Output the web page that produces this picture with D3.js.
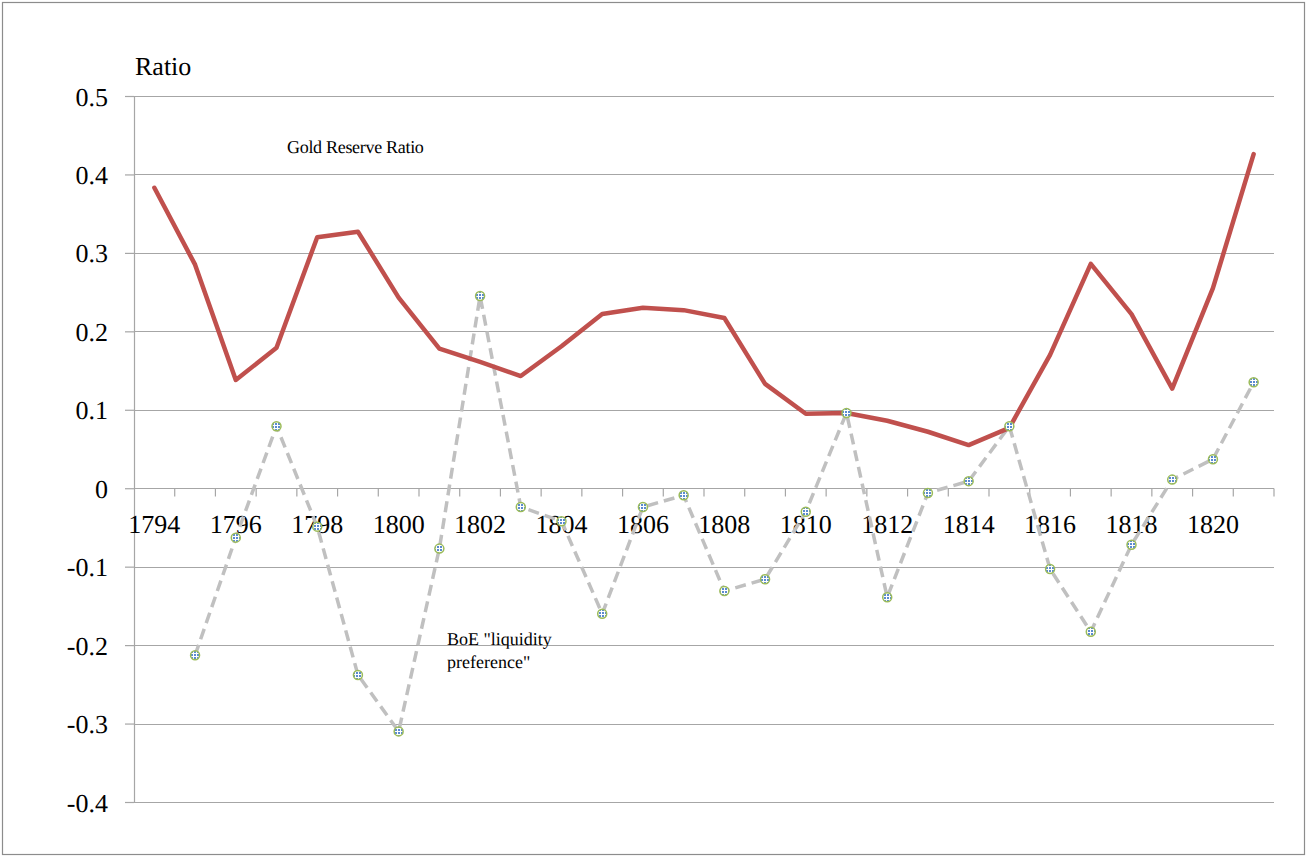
<!DOCTYPE html>
<html>
<head>
<meta charset="utf-8">
<script src="https://cdn.jsdelivr.net/npm/d3@7"></script>
</head>
<body style="margin:0;background:#fff">
<div id="chart"></div>
<script>
const years = d3.range(1794, 1822);
const goldReserveRatio = [
  0.383, 0.285, 0.138, 0.179, 0.320, 0.327, 0.243, 0.178, 0.161, 0.143,
  0.181, 0.222, 0.230, 0.227, 0.217, 0.133, 0.095, 0.096, 0.086, 0.072,
  0.055, 0.077, 0.170, 0.286, 0.222, 0.127, 0.255, 0.426
];
// no value for 1794
const liquidityPreference = [
  null, -0.213, -0.063, 0.079, -0.049, -0.238, -0.310, -0.077, 0.245, -0.024,
  -0.042, -0.160, -0.024, -0.009, -0.131, -0.116, -0.030, 0.096, -0.139, -0.006,
  0.009, 0.079, -0.103, -0.183, -0.072, 0.011, 0.037, 0.135
];
const yTicks = [0.5, 0.4, 0.3, 0.2, 0.1, 0, -0.1, -0.2, -0.3, -0.4];

const FONT = "'Liberation Serif', 'Times New Roman', serif";
const width = 1307, height = 856;
const margin = { top: 96, right: 33, bottom: 54, left: 134 };
const innerWidth = width - margin.left - margin.right;
const innerHeight = height - margin.top - margin.bottom;

const svg = d3.select('#chart').append('svg')
  .attr('width', width).attr('height', height)
  .style('font-family', FONT)
  .style('text-rendering', 'geometricPrecision');

// outer chart border
svg.append('rect')
  .attr('x', 2.5).attr('y', 2.5).attr('width', width - 5).attr('height', height - 4)
  .attr('fill', 'none').attr('stroke', '#8c8c8c').attr('stroke-width', 1.2);

// marker fill: small blue dots on white
const defs = svg.append('defs');
const pat = defs.append('pattern').attr('id', 'dots')
  .attr('width', 3).attr('height', 3).attr('patternUnits', 'userSpaceOnUse');
pat.append('rect').attr('width', 3).attr('height', 3).attr('fill', '#ffffff');
pat.append('rect').attr('width', 2).attr('height', 2).attr('fill', '#5b8bd0');

const g = svg.append('g').attr('transform', `translate(${margin.left},${margin.top})`);

const x = d3.scaleBand().domain(years).range([0, innerWidth]);
const y = d3.scaleLinear().domain([-0.4, 0.5]).range([innerHeight, 0]);
const cx = (yr) => x(yr) + x.bandwidth() / 2;

// gridlines
g.append('g').selectAll('line').data(yTicks).join('line')
  .attr('x1', 0).attr('x2', innerWidth)
  .attr('y1', (d) => Math.round(y(d)) + 0.5).attr('y2', (d) => Math.round(y(d)) + 0.5)
  .attr('stroke', '#a6a6a6').attr('stroke-width', 1.2);

// y axis (hyphen minus like the original, not U+2212)
const fmt = (d) => (d === 0 ? '0' : d.toFixed(1));
const yAxis = g.append('g').call(d3.axisLeft(y).tickValues(yTicks).tickSize(9).tickPadding(17).tickFormat(fmt));
yAxis.attr('font-family', null).attr('font-size', null);
yAxis.select('.domain').attr('stroke', '#a6a6a6').attr('stroke-width', 1.2);
yAxis.selectAll('.tick line').attr('stroke', '#a6a6a6').attr('stroke-width', 1.2);
yAxis.selectAll('.tick text')
  .style('font-family', FONT).style('font-size', '26px')
  .attr('fill', '#000').attr('dy', '0.35em');

// x axis at y = 0, ticks between categories
const xAxisG = g.append('g').attr('transform', `translate(0,${Math.round(y(0)) + 0.5})`);
xAxisG.append('line').attr('x1', 0).attr('x2', innerWidth).attr('stroke', '#a6a6a6').attr('stroke-width', 1.2);
xAxisG.selectAll('line.tk').data(years.slice(1).concat([1822])).join('line').attr('class', 'tk')
  .attr('x1', (d, i) => (i + 1) * x.bandwidth()).attr('x2', (d, i) => (i + 1) * x.bandwidth())
  .attr('y1', 0).attr('y2', 8)
  .attr('stroke', '#a6a6a6').attr('stroke-width', 1.2);
xAxisG.selectAll('text').data(years.filter((yr) => (yr - 1794) % 2 === 0)).join('text')
  .attr('x', (d) => cx(d)).attr('y', 44)
  .attr('text-anchor', 'middle')
  .style('font-family', FONT).style('font-size', '26px')
  .text((d) => d);

// axis title
svg.append('text').attr('x', 135).attr('y', 75)
  .style('font-family', FONT).style('font-size', '26px').text('Ratio');

// liquidity preference: dashed grey line with markers
const liqData = years.map((yr, i) => ({ year: yr, v: liquidityPreference[i] })).filter((d) => d.v !== null);
g.append('path').datum(liqData)
  .attr('d', d3.line().x((d) => cx(d.year)).y((d) => y(d.v)))
  .attr('fill', 'none').attr('stroke', '#c0c0c0').attr('stroke-width', 3.5)
  .attr('stroke-dasharray', '11,6');

// gold reserve ratio: solid red line
g.append('path').datum(years.map((yr, i) => ({ year: yr, v: goldReserveRatio[i] })))
  .attr('d', d3.line().x((d) => cx(d.year)).y((d) => y(d.v)))
  .attr('fill', 'none').attr('stroke', '#c0504d').attr('stroke-width', 4.5)
  .attr('stroke-linejoin', 'round').attr('stroke-linecap', 'round');

g.append('g').selectAll('circle').data(liqData).join('circle')
  .attr('cx', (d) => cx(d.year)).attr('cy', (d) => y(d.v)).attr('r', 4.5)
  .attr('fill', 'url(#dots)').attr('stroke', '#9bbb59').attr('stroke-width', 1.5);

// annotations
const note = (tx, ty, s) => svg.append('text').attr('x', tx).attr('y', ty)
  .style('font-family', FONT).style('font-size', '18px').text(s);
note(287, 153, 'Gold Reserve Ratio').style('letter-spacing', '-0.3px');
note(447, 645, 'BoE "liquidity');
note(447, 668, 'preference"');
</script>
</body>
</html>
